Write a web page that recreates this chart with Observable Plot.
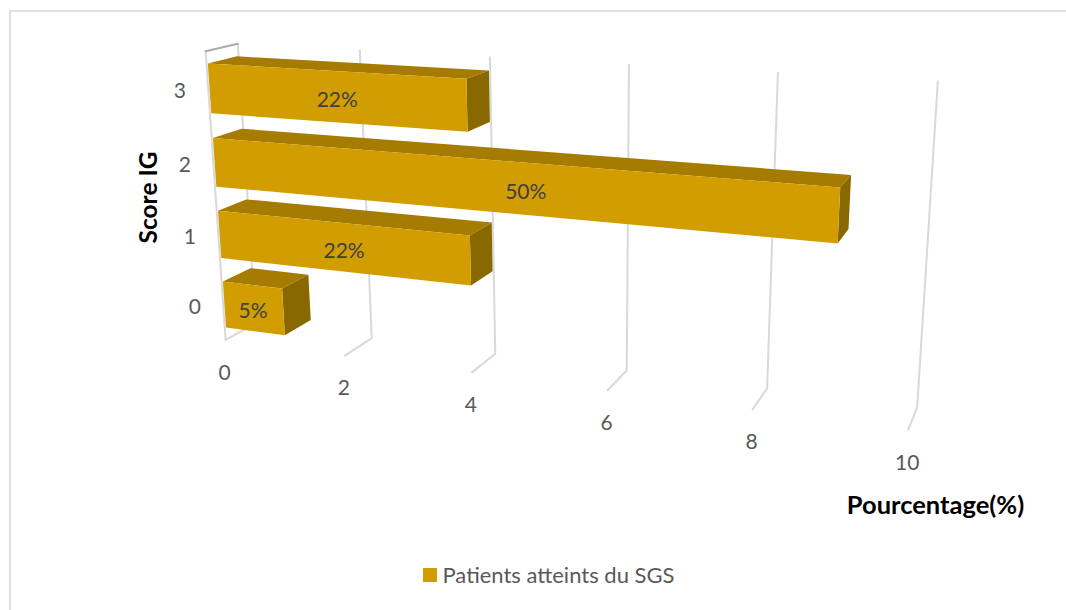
<!DOCTYPE html>
<html>
<head>
<meta charset="utf-8">
<script src="https://cdn.jsdelivr.net/npm/d3@7"></script>
<script src="https://cdn.jsdelivr.net/npm/@observablehq/plot@0.6"></script>
<style>
  html, body { margin: 0; padding: 0; background: #fff; }
  svg { display: block; }
</style>
</head>
<body>
<div id="chart"></div>
<script>
// Data
const categories = ["0", "1", "2", "3"];
const patients = [1, 4, 9, 4];
const shareLabels = ["5%", "22%", "50%", "22%"];
const valueTicks = [0, 2, 4, 6, 8, 10];
const seriesName = "Patients atteints du SGS";
const xTitle = "Pourcentage(%)";
const yTitle = "Score IG";

// Camera: the back wall of the 3D box (value 0..10, category band 0..4) as a
// homography, plus the vanishing point of the depth axis.
const wall = {
  bottomLeft: [255, 323],
  bottomRight: [916.7, 406.7],
  topRight: [937.3, 80.7],
  topLeft: [237.3, 43.3]
};
const depthVanish = [1145, -166];
const depthScale = -0.0325;
const valueMax = 10;
const bandMax = 4;

function homography({bottomLeft: p0, bottomRight: p1, topRight: p2, topLeft: p3}) {
  const dx1 = p1[0] - p2[0], dx2 = p3[0] - p2[0], dx3 = p0[0] - p1[0] + p2[0] - p3[0];
  const dy1 = p1[1] - p2[1], dy2 = p3[1] - p2[1], dy3 = p0[1] - p1[1] + p2[1] - p3[1];
  const den = dx1 * dy2 - dx2 * dy1;
  const g = (dx3 * dy2 - dx2 * dy3) / den;
  const h = (dx1 * dy3 - dx3 * dy1) / den;
  return {
    a: p1[0] - p0[0] + g * p1[0], b: p3[0] - p0[0] + h * p3[0], c: p0[0],
    d: p1[1] - p0[1] + g * p1[1], e: p3[1] - p0[1] + h * p3[1], f: p0[1],
    g, h
  };
}
const H = homography(wall);

// value along the bars, band height, depth (0 = back wall, 1 = front edge)
function project(value, band, depth) {
  const u = value / valueMax, v = band / bandMax, k = depthScale * depth;
  const W = H.g * u + H.h * v + 1 + k;
  return {
    px: (H.a * u + H.b * v + H.c + k * depthVanish[0]) / W,
    py: (H.d * u + H.e * v + H.f + k * depthVanish[1]) / W
  };
}

// Bar extents inside each category band and along the depth axis
const barLow = 0.17, barHigh = 0.835, barBack = 0.05, barFront = 0.96, barStart = 0.0;

const polygon = (id, face, corners) =>
  corners.map(([value, band, depth]) => ({id, face, ...project(value, band, depth)}));

const faces = categories.flatMap((c, i) => {
  const v = patients[i], lo = i + barLow, hi = i + barHigh;
  return [
    ...polygon(`top-${c}`, "top", [[barStart, hi, barFront], [v, hi, barFront], [v, hi, barBack], [barStart, hi, barBack]]),
    ...polygon(`side-${c}`, "side", [[v, lo, barFront], [v, hi, barFront], [v, hi, barBack], [v, lo, barBack]]),
    ...polygon(`front-${c}`, "front", [[barStart, lo, barFront], [v, lo, barFront], [v, hi, barFront], [barStart, hi, barFront]])
  ];
});

const barLabels = categories.map((c, i) => {
  const left = project(barStart, i + 0.5, barFront), right = project(patients[i], i + 0.5, barFront);
  return {label: shareLabels[i], px: (left.px + right.px) / 2, py: (left.py + right.py) / 2};
});

// Gridlines run from the front of the floor, across it, then up the back wall
const gridlines = valueTicks.flatMap((v) => [[v, 0, 1], [v, 0, 0], [v, bandMax, 0]]
  .map(([value, band, depth]) => ({tick: v, ...project(value, band, depth)})));
const sideWall = [[0, 0, 1], [0, bandMax, 1]]
  .map(([value, band, depth]) => project(value, band, depth));
const wallTop = [[0, bandMax, 1], [0, bandMax, 0]]
  .map(([value, band, depth]) => project(value, band, depth));

const valueLabels = valueTicks.map((v) => ({label: String(v), ...project(v, 0, 1)}));
const categoryLabels = categories.map((c, i) => ({label: c, ...project(0, i + 0.5, 1)}));

const font = "Lato, 'Open Sans', sans-serif";

const chart = Plot.plot({
  width: 1066,
  height: 610,
  margin: 0,
  x: {domain: [0, 1066], range: [0, 1066], axis: null},
  y: {domain: [0, 610], range: [0, 610], axis: null},
  color: {domain: ["front", "top", "side"], range: ["#d29d00", "#a67c00", "#8a6800"]},
  style: {background: "#fff", fontFamily: font},
  marks: [
    // chart frame
    Plot.ruleX([9.5], {stroke: "#d9d9d9", strokeWidth: 1.5, y1: 10, y2: 610}),
    Plot.ruleY([10.5], {stroke: "#d9d9d9", strokeWidth: 1.5, x1: 9, x2: 1066}),
    // box
    Plot.line(gridlines, {x: "px", y: "py", z: "tick", stroke: "#d9d9d9", strokeWidth: 2}),
    Plot.line(sideWall, {x: "px", y: "py", stroke: "#d9d9d9", strokeWidth: 2}),
    Plot.line(wallTop, {x: "px", y: "py", stroke: "#ababab", strokeWidth: 2}),
    // bars
    Plot.line(faces, {x: "px", y: "py", z: "id", fill: "face", stroke: "none"}),
    Plot.text(barLabels, {x: "px", y: "py", text: "label", fontSize: 21, fill: "#404040", dx: -1, dy: 3}),
    // axis labels
    Plot.text(valueLabels, {x: "px", y: "py", text: "label", fontSize: 21, fill: "#595959", dx: -1, dy: 33}),
    Plot.text(categoryLabels, {x: "px", y: "py", text: "label", fontSize: 21, fill: "#595959", dx: -28.5, dy: 2}),
    // axis titles
    Plot.text([xTitle], {x: 935, y: 505, text: (d) => d, fontSize: 25.5, fontWeight: 700, fill: "#000"}),
    Plot.text([yTitle], {x: 149, y: 197, text: (d) => d, fontSize: 24.5, fontWeight: 700, fill: "#000", rotate: -90}),
    // legend
    Plot.rect([seriesName], {x1: 423, x2: 437, y1: 568, y2: 582, fill: "#d29d00"}),
    Plot.text([seriesName], {x: 442, y: 575, text: (d) => d, textAnchor: "start", fontSize: 22, fill: "#595959"})
  ]
});
document.getElementById("chart").append(chart);
</script>
</body>
</html>
